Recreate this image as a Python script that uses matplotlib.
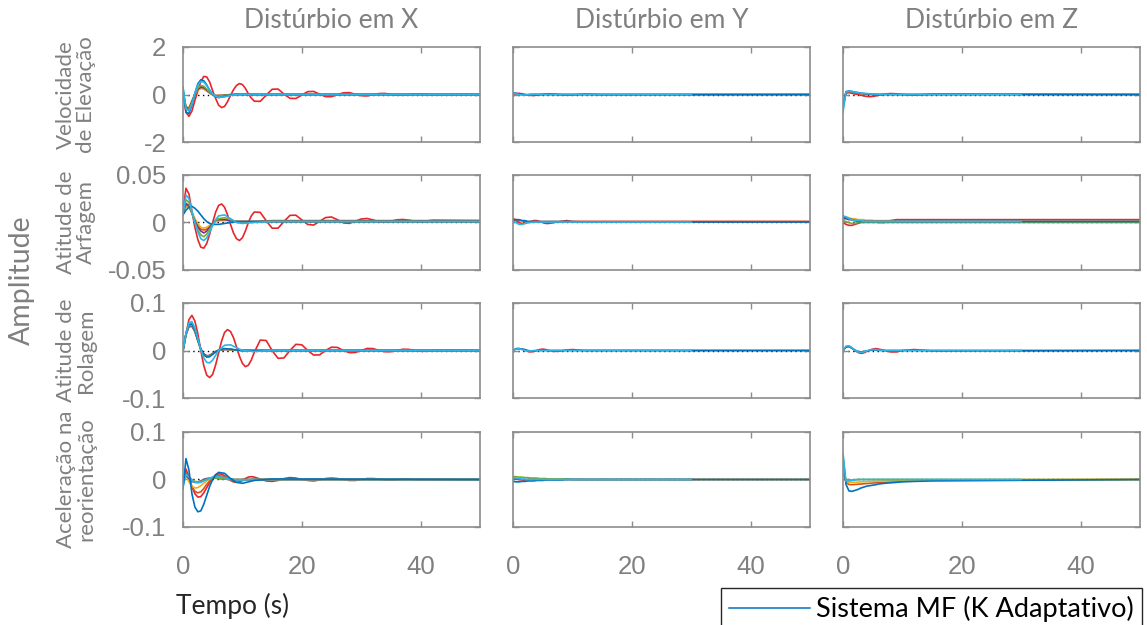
import matplotlib
matplotlib.use('Agg')
import matplotlib.pyplot as plt
from matplotlib.lines import Line2D

# ---------------- data ----------------
col_titles = ['Distúrbio em X', 'Distúrbio em Y', 'Distúrbio em Z']
row_labels = ['Velocidade\nde Elevação', 'Atitude de\nArfagem', 'Atitude de\nRolagem', 'Aceleração na\nreorientação']
row_ylims = [(-2, 2), (-0.05, 0.05), (-0.1, 0.1), (-0.1, 0.1)]
row_yticks = [[-2, 0, 2], [-0.05, 0, 0.05], [-0.1, 0, 0.1], [-0.1, 0, 0.1]]
row_yticklabels = [['-2', '0', '2'], ['-0.05', '0', '0.05'], ['-0.1', '0', '0.1'], ['-0.1', '0', '0.1']]
x_ticks = [0, 20, 40]
legend_label = 'Sistema MF (K Adaptativo)'

t_a = [0, 0.5, 1, 1.5, 2, 2.5, 3, 3.5, 4, 4.5, 5, 5.5, 6, 7, 8, 9, 10, 12, 15, 50]
t_a30 = [0, 0.5, 1, 1.5, 2, 2.5, 3, 3.5, 4, 4.5, 5, 5.5, 6, 7, 8, 9, 10, 12, 15, 30]
t_red = [0, 0.5, 1, 1.5, 2, 2.5, 3, 3.5, 4, 4.5, 5, 5.5, 6, 6.5, 7, 7.5, 8, 8.5, 9, 9.5, 10, 10.5, 11, 11.5, 12,
         13, 14, 15, 16, 17, 18, 19, 20, 21, 22, 23, 24, 25, 26, 27, 28, 29, 30, 31, 32, 33, 34, 35, 36, 37, 38,
         39, 40, 41, 42, 50]

# --- column X ---
x1_red = [0.0, -0.75, -0.92, -0.7, -0.25, 0.15, 0.55, 0.76, 0.74, 0.52, 0.15, -0.17, -0.45, -0.55, -0.5, -0.3,
          -0.04, 0.2, 0.38, 0.46, 0.42, 0.26, 0.03, -0.15, -0.28,
          -0.29, -0.03, 0.22, 0.23, 0.02, -0.16, -0.17, -0.02, 0.12, 0.13, 0.01, -0.09, -0.09, -0.01, 0.07, 0.08,
          0.01, -0.05, -0.06, -0.005, 0.04, 0.045, 0.005, -0.03, -0.03, 0.0, 0.02, 0.025, 0.0, -0.015, 0.0]
x1_orange = [0.1, -0.55, -0.6, -0.3, 0.02, 0.25, 0.33, 0.3, 0.2, 0.08, 0.0, -0.04, -0.05, -0.03, -0.01, 0, 0, 0, 0, 0]
x1_yellow = [0.1, -0.5, -0.55, -0.25, 0.0, 0.18, 0.25, 0.22, 0.14, 0.05, -0.01, -0.03, -0.04, -0.02, 0, 0, 0, 0, 0, 0]
x1_purple = [0.1, -0.55, -0.6, -0.3, 0.0, 0.22, 0.3, 0.28, 0.18, 0.07, -0.01, -0.05, -0.05, -0.03, -0.01, 0, 0, 0, 0, 0]
x1_green = [0.1, -0.6, -0.65, -0.35, 0.0, 0.28, 0.38, 0.35, 0.22, 0.08, -0.02, -0.06, -0.07, -0.04, -0.01, 0, 0, 0, 0, 0]
x1_blue = [0.3, -0.75, -0.8, -0.45, 0.05, 0.45, 0.62, 0.58, 0.4, 0.18, 0.0, -0.1, -0.13, -0.08, -0.02, 0.01, 0.01, 0, 0, 0]
x1_cyan = [0.3, -0.6, -0.7, -0.4, 0.05, 0.4, 0.55, 0.52, 0.37, 0.18, 0.02, -0.08, -0.12, -0.1, -0.04, 0.0, 0.01, 0, 0, 0]

x2_red = [0.012, 0.036, 0.03, 0.012, -0.005, -0.018, -0.026, -0.027, -0.022, -0.012, 0.0, 0.011, 0.018, 0.0195,
          0.016, 0.008, -0.002, -0.011, -0.017, -0.019, -0.016, -0.009, 0.0, 0.007, 0.011,
          0.0107, 0.002, -0.006, -0.006, 0.001, 0.0075, 0.0077, 0.0028, -0.0021, -0.0027, 0.0012, 0.0052, 0.0058,
          0.0029, -0.0004, -0.0009, 0.0012, 0.0037, 0.0042, 0.0027, 0.0008, 0.0004, 0.0014, 0.0028, 0.0032, 0.0025,
          0.0014, 0.0011, 0.0016, 0.0024, 0.002]
x2_orange = [0.010, 0.018, 0.017, 0.010, 0.003, -0.003, -0.007, -0.008, -0.007, -0.004, -0.001, 0.001, 0.002, 0.003, 0.002, 0.001, 0.001, 0.001, 0.002, 0.002]
x2_yellow = [0.010, 0.016, 0.016, 0.011, 0.004, -0.001, -0.005, -0.006, -0.005, -0.003, -0.001, 0.001, 0.002, 0.002, 0.002, 0.001, 0.001, 0.001, 0.001, 0.001]
x2_purple = [0.010, 0.020, 0.018, 0.010, 0.002, -0.005, -0.009, -0.011, -0.009, -0.005, -0.001, 0.002, 0.003, 0.003, 0.002, 0.001, 0.001, 0.001, 0.001, 0.001]
x2_green = [0.010, 0.024, 0.021, 0.010, 0.0, -0.008, -0.013, -0.015, -0.012, -0.007, -0.002, 0.002, 0.004, 0.005, 0.003, 0.001, 0.0, 0.001, 0.001, 0.001]
x2_blue = [0.008, 0.013, 0.016, 0.017, 0.015, 0.012, 0.008, 0.004, 0.001, -0.001, -0.002, -0.002, -0.002, -0.001, 0.0, 0.001, 0.001, 0.001, 0.001, 0.001]
x2_cyan = [0.010, 0.029, 0.025, 0.012, 0.0, -0.010, -0.017, -0.019, -0.016, -0.010, -0.003, 0.003, 0.007, 0.008, 0.004, 0.0, -0.001, 0.0, 0.001, 0.001]

x3_red = [0.0, 0.035, 0.065, 0.074, 0.062, 0.035, 0.0, -0.032, -0.052, -0.057, -0.05, -0.03, -0.005, 0.02, 0.038,
          0.044, 0.04, 0.027, 0.008, -0.012, -0.027, -0.034, -0.031, -0.02, -0.004,
          0.022, 0.021, 0.0, -0.0165, -0.0157, 0.0, 0.013, 0.012, 0.0, -0.0096, -0.0092, 0.0, 0.007, 0.0065, 0.0,
          -0.0045, -0.0042, 0.0, 0.0043, 0.004, 0.0, -0.0026, -0.0025, 0.0, 0.0026, 0.0024, 0.0, -0.0017, -0.0016,
          0.0, 0.0]
x3_orange = [0, 0.034, 0.053, 0.054, 0.042, 0.022, 0.002, -0.009, -0.013, -0.012, -0.007, -0.003, 0.0, 0.003, 0.002, 0.001, 0, 0, 0, 0]
x3_yellow = [0, 0.033, 0.051, 0.052, 0.04, 0.021, 0.002, -0.008, -0.012, -0.011, -0.006, -0.002, 0.001, 0.002, 0.002, 0.0, 0, 0, 0, 0]
x3_purple = [0, 0.033, 0.05, 0.051, 0.04, 0.021, 0.003, -0.007, -0.011, -0.01, -0.006, -0.002, 0.0, 0.002, 0.002, 0.001, 0, 0, 0, 0]
x3_green = [0, 0.034, 0.052, 0.053, 0.041, 0.021, 0.002, -0.009, -0.012, -0.011, -0.007, -0.003, 0.0, 0.003, 0.002, 0.001, 0, 0, 0, 0]
x3_blue = [0, 0.036, 0.055, 0.056, 0.043, 0.022, 0.003, -0.009, -0.014, -0.013, -0.008, -0.003, 0.001, 0.004, 0.003, 0.001, 0, 0, 0, 0]
x3_cyan = [0, 0.035, 0.058, 0.061, 0.047, 0.025, 0.002, -0.016, -0.025, -0.026, -0.02, -0.01, 0.0, 0.011, 0.012, 0.006, 0.0, -0.002, 0.0, 0]

x4_red = [0.0, 0.022, 0.005, -0.015, -0.03, -0.037, -0.036, -0.028, -0.017, -0.006, 0.004, 0.01, 0.012, 0.011,
          0.008, 0.003, -0.002, -0.005, -0.006, -0.005, -0.002, 0.002, 0.005, 0.006, 0.005,
          0.001, -0.003, -0.004, -0.002, 0.002, 0.004, 0.003, 0.0, -0.002, -0.003, -0.001, 0.002, 0.003, 0.002, 0.0,
          -0.002, -0.002, 0.0, 0.002, 0.002, 0.001, -0.001, -0.001, 0.0, 0.001, 0.001, 0.0, 0.0, 0.0, 0.0, 0.0]
x4_orange = [0.0, 0.015, 0.0, -0.015, -0.025, -0.028, -0.026, -0.019, -0.01, -0.003, 0.003, 0.007, 0.008, 0.006, 0.001, -0.002, -0.002, 0.0, 0.0, 0]
x4_yellow = [0.0, 0.01, -0.005, -0.014, -0.018, -0.017, -0.013, -0.008, -0.003, 0.001, 0.004, 0.005, 0.005, 0.003, 0.0, -0.001, -0.001, 0, 0, 0]
x4_purple = [0.0, 0.008, 0.002, -0.004, -0.006, -0.005, -0.003, 0.0, 0.002, 0.003, 0.003, 0.003, 0.002, 0.001, 0, 0, 0, 0, 0, 0]
x4_green = [0.0, 0.01, 0.006, 0.0, -0.004, -0.005, -0.004, -0.002, 0.0, 0.002, 0.003, 0.003, 0.002, 0.001, 0.0, 0.0, 0, 0, 0, 0]
x4_blue = [-0.02, 0.044, 0.02, -0.03, -0.058, -0.068, -0.066, -0.052, -0.033, -0.014, 0.0, 0.01, 0.015, 0.013, 0.002, -0.006, -0.008, -0.002, 0.001, 0]
x4_cyan = [-0.015, 0.01, 0.005, -0.002, -0.006, -0.007, -0.006, -0.003, 0.0, 0.003, 0.005, 0.006, 0.006, 0.004, 0.001, -0.001, -0.001, 0, 0, 0]

# --- column Y ---
y1_red = [0.0, 0.04, 0.05, 0.03, 0.0, -0.02, -0.04, -0.04, -0.03, -0.01, 0.01, 0.02, 0.03, 0.02, -0.01, -0.03, -0.02, 0.02, -0.01, 0]
y1_orange = [0.05, 0.03, 0.01, 0.0, -0.01, -0.01, 0.0, 0.0, 0, 0, 0, 0, 0, 0, 0, 0, 0, 0, 0, 0]
y1_blue = [0.08, 0.05, 0.02, 0.0, -0.01, -0.01, 0.0, 0.0, 0, 0, 0, 0, 0, 0, 0, 0, 0, 0, 0, 0]
y1_cyan = [0.06, 0.03, 0.0, -0.02, -0.02, -0.01, 0.0, 0.01, 0.01, 0, 0, 0, 0, 0, 0, 0, 0, 0, 0, 0]

y2_red = [0.003, 0.002, 0.0, -0.001, -0.001, 0.0, 0.001, 0.002, 0.002, 0.001, 0.0, -0.001, -0.001, 0.0, 0.001, 0.002, 0.001, 0.001, 0.001, 0.001]
y2_orange = [0.004, 0.003, 0.002, 0.002, 0.001, 0.001, 0.001, 0.001, 0.001, 0.001, 0.001, 0.001, 0.001, 0.001, 0.001, 0.001, 0.001, 0.001, 0.001, 0.001]
y2_blue = [0.003, 0.003, 0.003, 0.002, 0.002, 0.001, 0.001, 0.001, 0.001, 0.001, 0.001, 0.001, 0.001, 0.001, 0.001, 0.001, 0.001, 0.0005, 0.0005, 0.0005]
y2_cyan = [0.001, 0.0, -0.002, -0.002, -0.001, 0.0, 0.0, 0.0005, 0.0005, 0.0005, 0.0005, 0.0005, 0.0005, 0.0005, 0.0005, 0.0005, 0.0005, 0.0005, 0.0005, 0.0005]

y3_red = [0, 0.003, 0.004, 0.003, 0.001, -0.002, -0.003, -0.002, 0.0, 0.002, 0.003, 0.002, 0.0, -0.002, -0.001, 0.001, 0.002, 0.0, 0.0, 0]
y3_blue = [0, 0.004, 0.004, 0.003, 0.002, 0.0, -0.001, -0.001, 0, 0, 0, 0, 0, 0, 0, 0, 0, 0, 0, 0]
y3_cyan = [0, 0.003, 0.004, 0.002, 0, -0.001, -0.001, 0, 0, 0, 0, 0, 0, 0, 0, 0, 0, 0, 0, 0]

y4_red = [0.002, 0.001, 0.0, -0.001, -0.001, 0.0, 0.001, 0.001, 0.0, 0, 0, 0, 0, 0, 0, 0, 0, 0, 0, 0]
y4_green = [0.006, 0.006, 0.005, 0.005, 0.004, 0.004, 0.003, 0.003, 0.003, 0.002, 0.002, 0.002, 0.001, 0.001, 0.001, 0.001, 0, 0, 0, 0]
y4_blue = [-0.004, -0.005, -0.005, -0.004, -0.004, -0.003, -0.003, -0.003, -0.002, -0.002, -0.002, -0.001, -0.001, -0.001, -0.001, 0, 0, 0, 0, 0]
y4_cyan = [0.004, 0.003, 0.002, 0.001, 0.001, 0.0, 0, 0, 0, 0, 0, 0, 0, 0, 0, 0, 0, 0, 0, 0]

# --- column Z ---
z1_red = [-0.4, 0.05, 0.08, 0.05, 0.02, 0.0, -0.03, -0.06, -0.08, -0.09, -0.08, -0.06, -0.03, 0.02, 0.04, 0.03, 0.0, -0.03, 0.02, 0]
z1_orange = [-0.5, 0.1, 0.12, 0.1, 0.07, 0.05, 0.03, 0.02, 0.01, 0.0, 0, 0, 0, 0, 0, 0, 0, 0, 0, 0]
z1_blue = [-0.6, 0.12, 0.15, 0.13, 0.1, 0.08, 0.06, 0.04, 0.03, 0.02, 0.01, 0.0, 0.0, 0, 0, 0, 0, 0, 0, 0]
z1_cyan = [-0.75, 0.1, 0.14, 0.12, 0.1, 0.08, 0.06, 0.05, 0.04, 0.03, 0.02, 0.02, 0.01, 0.01, 0.0, 0, 0, 0, 0, 0]

z2_red = [0.0, -0.002, -0.003, -0.003, -0.002, -0.001, 0.0, 0.001, 0.002, 0.002, 0.002, 0.001, 0.0, 0.0, 0.002, 0.003, 0.003, 0.003, 0.003, 0.003]
z2_orange = [0.006, 0.006, 0.005, 0.004, 0.004, 0.003, 0.003, 0.003, 0.002, 0.002, 0.002, 0.002, 0.002, 0.002, 0.002, 0.001, 0.001, 0.001, 0.001, 0.001]
z2_purple = [0.004, 0.004, 0.003, 0.003, 0.002, 0.002, 0.001, 0.001, 0.001, 0.001, 0.001, 0.001, 0.001, 0.001, 0.001, 0.001, 0.001, 0.001, 0.001, 0.001]
z2_green = [0.002, 0.001, 0.0, -0.001, -0.001, 0.0, 0.0, 0.0, 0.0, 0.0, 0.0, 0.0, 0.0, 0.0, 0.0, 0.0, 0.0, 0.0, 0.0, 0.0]
z2_blue = [0.006, 0.005, 0.004, 0.003, 0.002, 0.001, 0.001, 0.001, 0.001, 0.001, 0.001, 0.001, 0.001, 0.001, 0.001, 0.001, 0.001, 0.001, 0.001, 0.001]
z2_cyan = [0.007, 0.006, 0.004, 0.003, 0.002, 0.002, 0.002, 0.001, 0.001, 0.001, 0.001, 0.001, 0.001, 0.001, 0.001, 0.001, 0.001, 0.001, 0.001, 0.001]

z3_red = [0, 0.008, 0.009, 0.005, 0.0, -0.004, -0.006, -0.005, -0.002, 0.001, 0.003, 0.004, 0.003, 0.0, -0.003, -0.003, 0.0, 0.002, -0.001, 0]
z3_blue = [0, 0.007, 0.008, 0.005, 0.001, -0.002, -0.003, -0.002, -0.001, 0.0, 0.001, 0.001, 0.0, 0, 0, 0, 0, 0, 0, 0]
z3_cyan = [0, 0.009, 0.01, 0.006, 0.001, -0.003, -0.004, -0.003, -0.001, 0.001, 0.002, 0.002, 0.001, 0, 0, 0, 0, 0, 0, 0]

z4_orange = [0.03, -0.006, -0.0105, -0.011, -0.0105, -0.01, -0.0095, -0.009, -0.0085, -0.008, -0.0075, -0.007, -0.0065, -0.006, -0.005, -0.004, -0.0035, -0.0025, -0.0015, 0]
z4_yellow = [0.02, -0.003, -0.0056, -0.006, -0.0058, -0.0055, -0.005, -0.0048, -0.0045, -0.0042, -0.004, -0.0037, -0.0035, -0.003, -0.0026, -0.0022, -0.0019, -0.0014, -0.0008, 0]
z4_green = [0.01, 0.0, -0.001, -0.001, -0.0005, 0, 0, 0, 0, 0, 0, 0, 0, 0, 0, 0, 0, 0, 0, 0]
z4_blue = [0.05, -0.01, -0.024, -0.025, -0.023, -0.021, -0.018, -0.016, -0.014, -0.013, -0.012, -0.011, -0.0095, -0.008, -0.007, -0.006, -0.005, -0.004, -0.003, 0]
z4_cyan = [0.055, -0.004, -0.003, -0.002, -0.001, 0, 0, 0, 0, 0, 0, 0, 0, 0, 0, 0, 0, 0, 0, 0]

# ---------------- styles ----------------
RED = '#E8262A'
ORANGE = '#D95319'
YELLOW = '#EDB120'
PURPLE = '#7E2F8E'
GREEN = '#77AC30'
BLUE = '#0072BD'
CYAN = '#2DB4E8'
GRAY = '#808080'

panels = [
    [  # row 1
        [(t_red, x1_red, RED), (t_a, x1_orange, ORANGE), (t_a, x1_yellow, YELLOW), (t_a, x1_purple, PURPLE),
         (t_a, x1_green, GREEN), (t_a, x1_blue, BLUE), (t_a, x1_cyan, CYAN)],
        [(t_a, y1_red, RED), (t_a, y1_orange, ORANGE), (t_a, y1_blue, BLUE), (t_a30, y1_cyan, CYAN)],
        [(t_a, z1_red, RED), (t_a, z1_orange, ORANGE), (t_a, z1_blue, BLUE), (t_a30, z1_cyan, CYAN)],
    ],
    [  # row 2
        [(t_red, x2_red, RED), (t_a, x2_orange, ORANGE), (t_a, x2_yellow, YELLOW), (t_a, x2_purple, PURPLE),
         (t_a, x2_green, GREEN), (t_a, x2_blue, BLUE), (t_a, x2_cyan, CYAN)],
        [(t_a, y2_red, RED), (t_a, y2_orange, ORANGE), (t_a, y2_blue, BLUE), (t_a30, y2_cyan, CYAN)],
        [(t_a, z2_red, RED), (t_a, z2_orange, YELLOW), (t_a, z2_purple, PURPLE), (t_a, z2_green, GREEN),
         (t_a, z2_blue, BLUE), (t_a30, z2_cyan, CYAN)],
    ],
    [  # row 3
        [(t_red, x3_red, RED), (t_a, x3_orange, ORANGE), (t_a, x3_yellow, YELLOW), (t_a, x3_purple, PURPLE),
         (t_a, x3_green, GREEN), (t_a, x3_blue, BLUE), (t_a, x3_cyan, CYAN)],
        [(t_a, y3_red, RED), (t_a, y3_blue, BLUE), (t_a30, y3_cyan, CYAN)],
        [(t_a, z3_red, RED), (t_a, z3_blue, BLUE), (t_a30, z3_cyan, CYAN)],
    ],
    [  # row 4
        [(t_red, x4_red, RED), (t_a, x4_orange, ORANGE), (t_a, x4_yellow, YELLOW), (t_a, x4_purple, PURPLE),
         (t_a, x4_green, GREEN), (t_a, x4_cyan, CYAN), (t_a, x4_blue, BLUE)],
        [(t_a, y4_red, RED), (t_a, y4_green, GREEN), (t_a, y4_blue, BLUE), (t_a30, y4_cyan, CYAN)],
        [(t_a, z4_orange, ORANGE), (t_a, z4_yellow, YELLOW), (t_a, z4_green, GREEN), (t_a, z4_blue, BLUE),
         (t_a30, z4_cyan, CYAN)],
    ],
]

W, H = 1147, 625
fig = plt.figure(figsize=(W / 100, H / 100), dpi=100)

lefts = [183, 513, 843]
width = 297
tops = [47, 175, 303, 432]
height = 95

TXT_FONT = ['Lato', 'DejaVu Sans']
NUM_FONT = ['Liberation Sans', 'DejaVu Sans']

for r in range(4):
    for c in range(3):
        ax = fig.add_axes([lefts[c] / W, 1 - (tops[r] + height) / H, width / W, height / H])
        ax.axhline(0, color='black', linestyle=(0, (1, 2.5)), linewidth=1.0, zorder=1)
        for (tt, yy, col) in panels[r][c]:
            ax.plot(tt, yy, color=col, linewidth=1.2, zorder=2)
        ax.set_xlim(0, 50)
        ax.set_ylim(*row_ylims[r])
        ax.set_xticks(x_ticks)
        ax.set_yticks(row_yticks[r])
        ax.tick_params(direction='in', length=4, width=1, colors='#8c8c8c',
                       top=True, right=True, labelsize=18.5, labelcolor=GRAY)
        ax.tick_params(axis='x', pad=20)
        ax.tick_params(axis='y', pad=12)
        for sp in ax.spines.values():
            sp.set_color('#8c8c8c')
            sp.set_linewidth(1.2)
        if c == 0:
            ax.set_yticklabels(row_yticklabels[r], fontfamily=NUM_FONT)
        else:
            ax.set_yticklabels([])
        if r == 3:
            ax.set_xticklabels([str(v) for v in x_ticks], fontfamily=NUM_FONT)
        else:
            ax.set_xticklabels([])
        if r == 0:
            ax.text(0.5, 1 + 27 / height, col_titles[c], transform=ax.transAxes, ha='center', va='center',
                    fontsize=19, color=GRAY, family=TXT_FONT)
        if c == 0:
            fig.text(76 / W, 1 - (tops[r] + height / 2) / H, row_labels[r], rotation=90, ha='center',
                     va='center', multialignment='center', fontsize=16, color=GRAY, family=TXT_FONT,
                     linespacing=1.05)

fig.text(22 / W, 1 - 280 / H, 'Amplitude', rotation=90, ha='center', va='center', fontsize=20.5,
         color=GRAY, family=TXT_FONT)
fig.text(233 / W, 1 - 606 / H, 'Tempo (s)', ha='center', va='center', fontsize=19,
         color='#262626', family=TXT_FONT)

handle = Line2D([], [], color=BLUE, linewidth=1.1)
leg = fig.legend([handle], [legend_label], loc='upper left', bbox_to_anchor=(721 / W, 1 - 588 / H),
                 frameon=True, fancybox=False, edgecolor='#262626', framealpha=1,
                 prop={'family': TXT_FONT, 'size': 19.5}, handlelength=3.0, handletextpad=0.2,
                 borderpad=0.3, borderaxespad=0)
leg.get_frame().set_linewidth(1.0)

fig.savefig('out.png', dpi=100)
